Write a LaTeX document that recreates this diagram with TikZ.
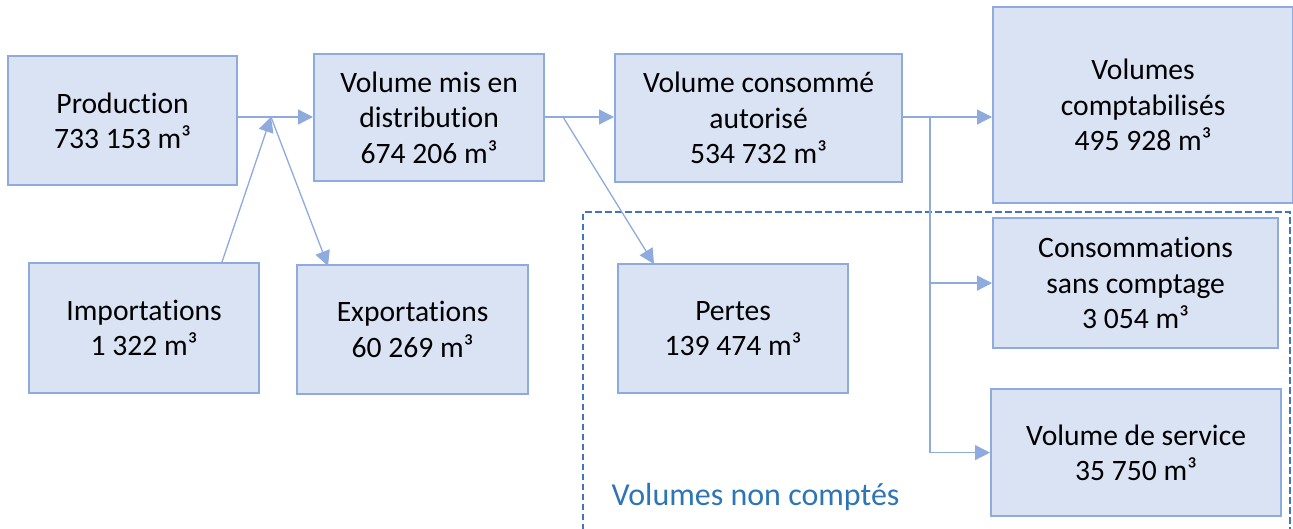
\documentclass[tikz,border=0pt]{standalone}
\usepackage{fontspec}
\setmainfont[Ligatures=NoCommon]{Carlito}
\usetikzlibrary{arrows.meta,calc}
\definecolor{boxfill}{HTML}{DAE3F3}
\definecolor{boxline}{HTML}{8FAADC}
\definecolor{dashblue}{HTML}{4472C4}
\definecolor{labblue}{HTML}{2E75B6}
\begin{document}
\begin{tikzpicture}[x=1pt,y=-1pt,
  box/.style={draw=boxline,fill=boxfill,line width=2.2pt,align=center,inner sep=0pt,
    font=\fontsize{29.6}{35.5}\selectfont,anchor=north west},
  arr/.style={draw=boxline,line width=1.3pt,-{Triangle[length=15pt,width=15pt]}},
  ln/.style={draw=boxline,line width=1.3pt}]
\useasboundingbox (0,0) rectangle (1293,528);
% dashed region
\draw[dashblue,line width=2.5pt,dash pattern=on 6.5pt off 3.5pt] (583,540) -- (583,212) -- (1290,212) -- (1290,540);
\node[anchor=base west,text=labblue,font=\fontsize{32}{38}\selectfont] (lab) at (608,505) {Volumes non comptés};
% boxes
\node[box,minimum width=229pt,minimum height=129pt] (prod) at (7,55) {Production\\733 153 m³};
\node[box,minimum width=230pt,minimum height=127pt] (dist) at (313,53) {Volume mis en\\distribution\\674 206 m³};
\node[box,minimum width=287pt,minimum height=128pt] (cons) at (614,53) {Volume consommé\\autorisé\\534 732 m³};
\node[box,minimum width=300pt,minimum height=196pt] (comp) at (992,6) {Volumes\\comptabilisés\\495 928 m³};
\node[box,minimum width=230pt,minimum height=130pt] (imp) at (28,262) {Importations\\1 322 m³};
\node[box,minimum width=231pt,minimum height=129pt] (exp) at (296,264) {Exportations\\60 269 m³};
\node[box,minimum width=230pt,minimum height=129pt] (pert) at (617,263) {Pertes\\139 474 m³};
\node[box,minimum width=285pt,minimum height=130pt] (ssc) at (992,217) {Consommations\\sans comptage\\3 054 m³};
\node[box,minimum width=290pt,minimum height=127pt] (serv) at (990,388) {Volume de service\\35 750 m³};
% junctions
\coordinate (j1) at (271,117);
\coordinate (j2) at (563,117);
\coordinate (j3) at (930,117);
% connectors
\draw[arr] (prod.east |- j1) -- (dist.west |- j1);
\draw[arr] ([xshift=194pt]imp.north west) -- (j1);
\draw[arr] (j1) -- ([xshift=32pt,yshift=-2pt]exp.north west);
\draw[arr] (dist.east |- j2) -- (cons.west |- j2);
\draw[arr] (j2) -- ([xshift=37pt,yshift=-1pt]pert.north west);
\draw[arr] (cons.east |- j3) -- (comp.west |- j3);
\draw[ln] (j3) -- (j3 |- serv.west);
\draw[arr] (j3 |- ssc.west) -- (ssc.west);
\draw[arr] (j3 |- serv.west) -- (serv.west);
\end{tikzpicture}
\end{document}
